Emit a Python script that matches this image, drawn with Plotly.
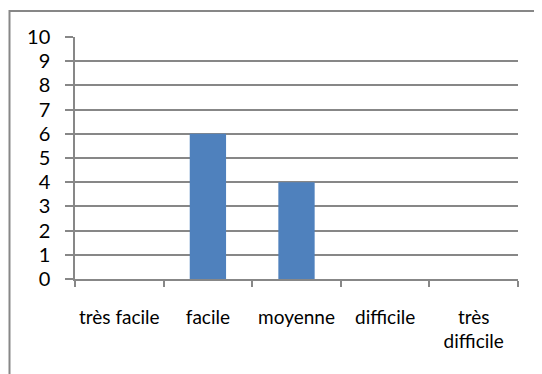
import plotly.graph_objects as go

categories = ["très facile", "facile", "moyenne", "difficile", "très<br>difficile"]
values = [0, 6, 4, 0, 0]
y_ticks = list(range(0, 11))

# page body has an 8px margin, so the figure is offset by 8px
OFF = 8
W, H = 534, 366
L, R, T, B = 75 - OFF, 534 + OFF - 518, 37 - OFF, 366 + OFF - 279
pw, ph = W - L - R, H - T - B

def px_to_paper_x(px):
    return (px - OFF - L) / pw

def px_to_paper_y(py):
    return (H - B - (py - OFF)) / ph

grid = "#878787"

fig = go.Figure(go.Bar(x=categories, y=values, marker=dict(color="#4F81BD", line=dict(width=0))))

fig.update_layout(
    width=W, height=H,
    margin=dict(l=L, r=R, t=T, b=B),
    paper_bgcolor="white", plot_bgcolor="white",
    bargap=0.59,
    showlegend=False,
    font=dict(family="Lato, 'Open Sans', sans-serif", color="#000000"),
    xaxis=dict(
        showgrid=False, showline=True, linecolor=grid, linewidth=1.5,
        ticks="outside", tickson="boundaries", ticklen=6, tickwidth=1.5, tickcolor=grid,
        tickfont=dict(size=19), ticklabelstandoff=20, tickangle=0,
        range=[-0.5, 4.5], fixedrange=True,
    ),
    yaxis=dict(
        range=[0, 10], tickvals=y_ticks, ticktext=[str(v) for v in y_ticks],
        showgrid=True, gridcolor=grid, gridwidth=1.5,
        showline=True, linecolor=grid, linewidth=1.5,
        ticks="outside", ticklen=8, tickwidth=1.5, tickcolor=grid,
        tickfont=dict(size=20), ticklabelstandoff=11, zeroline=False,
    ),
    shapes=[dict(
        type="rect", xref="paper", yref="paper",
        x0=px_to_paper_x(9.5), x1=px_to_paper_x(580),
        y0=px_to_paper_y(420), y1=px_to_paper_y(11),
        line=dict(color=grid, width=2), fillcolor="rgba(0,0,0,0)", layer="below",
    )],
)

fig.write_html("out.html")
